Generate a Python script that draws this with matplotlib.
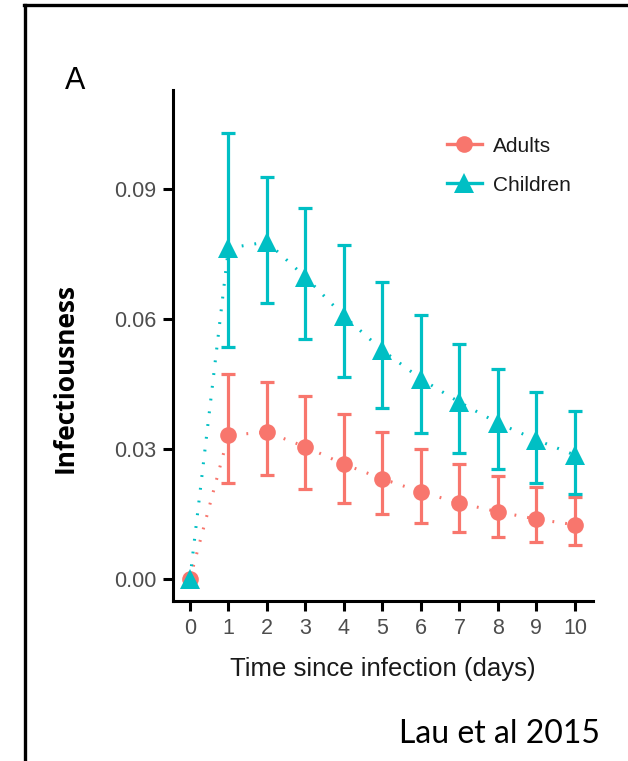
import matplotlib
matplotlib.use("Agg")
import matplotlib.pyplot as plt
from matplotlib.lines import Line2D
import numpy as np

days = [0, 1, 2, 3, 4, 5, 6, 7, 8, 9, 10]
adults = [0.0, 0.0332, 0.0339, 0.0305, 0.0265, 0.0231, 0.0201, 0.0175, 0.0155, 0.0138, 0.0125]
adults_lo = [0.0, 0.0222, 0.0240, 0.0208, 0.0175, 0.0150, 0.0129, 0.0108, 0.0097, 0.0085, 0.0078]
adults_hi = [0.0, 0.0473, 0.0455, 0.0422, 0.0381, 0.0339, 0.0300, 0.0265, 0.0238, 0.0212, 0.0189]
children = [0.0, 0.0764, 0.0778, 0.0697, 0.0607, 0.0528, 0.0462, 0.0408, 0.0360, 0.0321, 0.0286]
children_lo = [0.0, 0.0535, 0.0637, 0.0554, 0.0466, 0.0395, 0.0337, 0.0291, 0.0254, 0.0222, 0.0196]
children_hi = [0.0, 0.1029, 0.0928, 0.0856, 0.0771, 0.0685, 0.0609, 0.0542, 0.0485, 0.0432, 0.0388]
yticks = [0.00, 0.03, 0.06, 0.09]
ytick_labels = ["0.00", "0.03", "0.06", "0.09"]

RED = "#F8766D"
TEAL = "#00BFC4"
sans = ["Liberation Sans", "DejaVu Sans"]

fig = plt.figure(figsize=(6.28, 7.61), dpi=100)
ax = fig.add_axes([173/628, 1-601/761, (593-173)/628, (601-90)/761])

def series(y, lo, hi, color, marker, ms):
    y = np.array(y); lo = np.array(lo); hi = np.array(hi)
    ax.plot(days, y, linestyle=(0, (0.6, 3.6)), color=color, lw=2.2, zorder=2)
    ax.errorbar(days[1:], y[1:], yerr=[y[1:]-lo[1:], hi[1:]-y[1:]], fmt="none",
                ecolor=color, elinewidth=2.3, capsize=4.7, capthick=2.3, zorder=3)
    ax.plot(days, y, linestyle="none", marker=marker, color=color, ms=ms, mew=0, zorder=4)

series(adults, adults_lo, adults_hi, RED, "o", 12)
series(children, children_lo, children_hi, TEAL, "^", 14)

ax.set_xlim(-0.44, 10.47)
ax.set_ylim(-0.0051, 0.1129)
ax.set_xticks(days)
ax.set_xticklabels([str(d) for d in days])
ax.set_yticks(yticks)
ax.set_yticklabels(ytick_labels)
for s in ["top", "right"]:
    ax.spines[s].set_visible(False)
for s in ["left", "bottom"]:
    ax.spines[s].set_linewidth(2.2)
ax.tick_params(axis="both", length=7, width=2.2, color="black", labelcolor="#4D4D4D",
               labelsize=15.5, pad=5)
for lab in ax.get_xticklabels() + ax.get_yticklabels():
    lab.set_family(sans)

ax.set_xlabel("Time since infection (days)", fontsize=18.5, family=sans, color="#1A1A1A", labelpad=13)
fig.text(65/628, 1-378/761, "Infectiousness", rotation=90, ha="center", va="center",
         fontsize=19, fontweight="bold", family=["Open Sans", "DejaVu Sans"])

handles = [Line2D([], [], color=RED, marker="o", ms=12, mew=0, lw=2.4),
           Line2D([], [], color=TEAL, marker="^", ms=14, mew=0, lw=2.4)]
leg = ax.legend(handles, ["Adults", "Children"], loc="upper left",
                bbox_to_anchor=((428-173)/420, 1-(118-90)/511), frameon=False,
                prop={"family": sans, "size": 15}, handlelength=1.7, labelspacing=0.95,
                handletextpad=0.5)
for t in leg.get_texts():
    t.set_color("#1A1A1A")

fig.text(65/628, 1-89/761, "A", fontsize=22, family=sans, ha="left", va="baseline")
fig.text(600/628, 1-743/761, "Lau et al 2015", fontsize=23, family=["Lato", "DejaVu Sans"],
         color="black", ha="right", va="baseline")

# page border (left and top)
fig.add_artist(Line2D([24.5/628, 24.5/628], [0, 1-5/761], transform=fig.transFigure,
                      color="black", lw=2.4))
fig.add_artist(Line2D([23.5/628, 1], [1-5/761, 1-5/761], transform=fig.transFigure,
                      color="black", lw=2.4))

fig.savefig("out.png", dpi=100)
